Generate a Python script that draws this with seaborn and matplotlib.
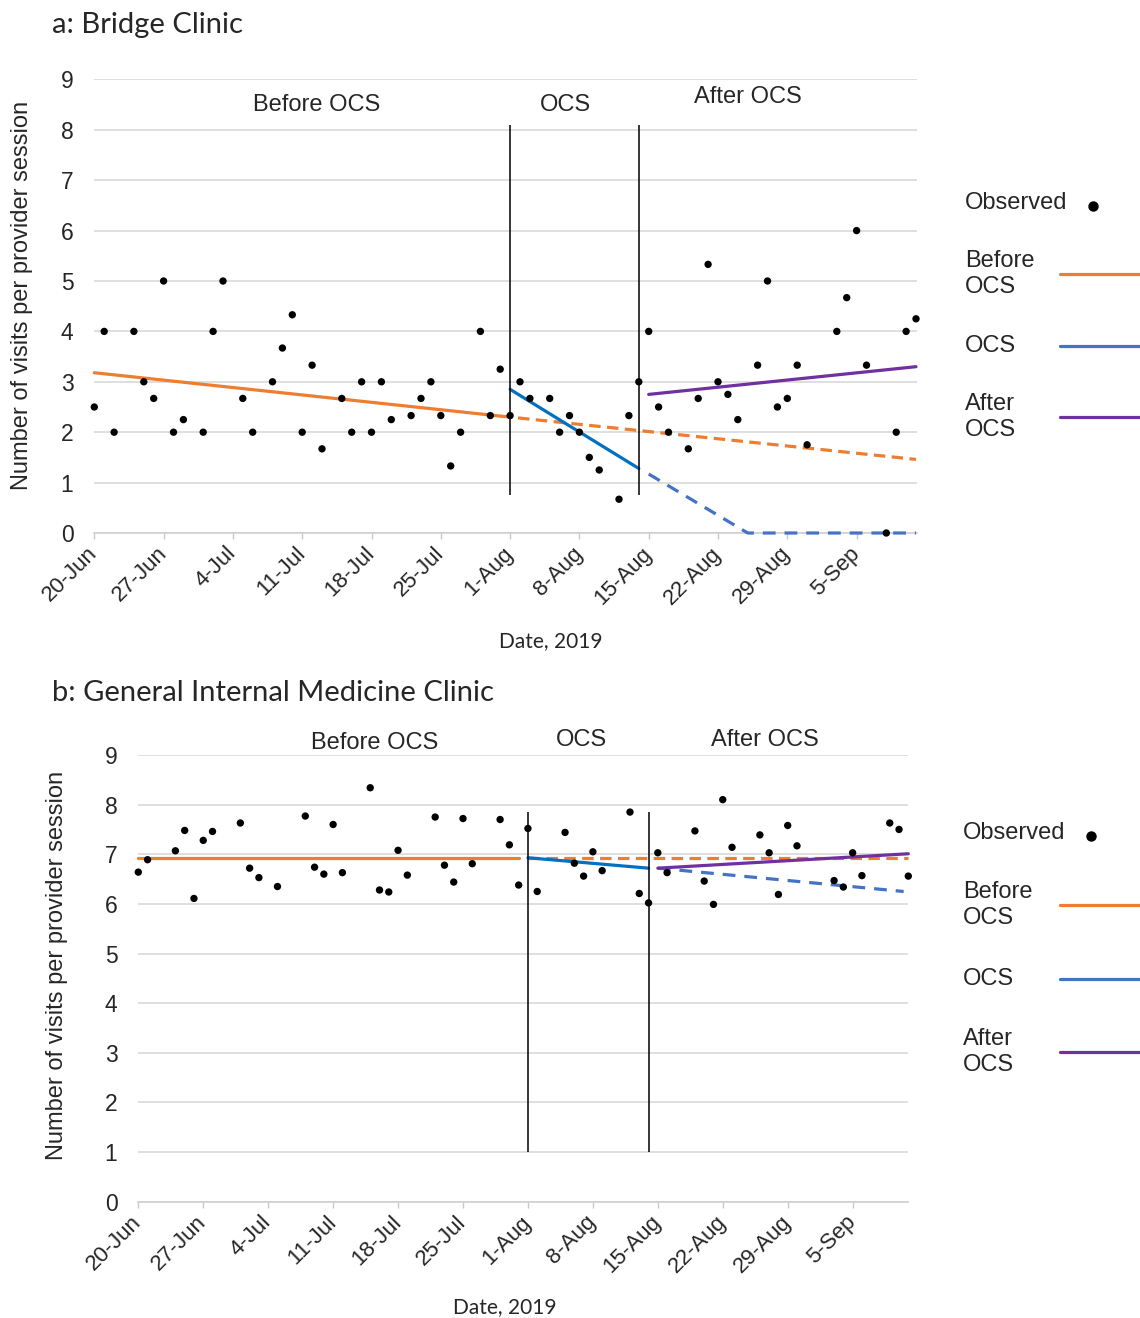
import pandas as pd
import matplotlib.pyplot as plt
from matplotlib.lines import Line2D
import seaborn as sns

sns.set_style("white")
plt.rcParams['font.family'] = ['Liberation Sans', 'DejaVu Sans']

# x axis: days since 20-Jun-2019
tick_days = [0, 7, 14, 21, 28, 35, 42, 49, 56, 63, 70, 77]
tick_labels = ['20-Jun', '27-Jun', '4-Jul', '11-Jul', '18-Jul', '25-Jul',
               '1-Aug', '8-Aug', '15-Aug', '22-Aug', '29-Aug', '5-Sep']

# a: Bridge Clinic observed
bridge_days = [0, 1, 2, 4, 5, 6, 7, 8, 9, 11, 12, 13, 15, 16, 18, 19, 20, 21, 22, 23,
               25, 26, 27, 28, 29, 30, 32, 33, 34, 35, 36, 37, 39, 40, 41, 42, 43, 44,
               46, 47, 48, 49, 50, 51, 53, 54, 55, 56, 57, 58, 60, 61, 62, 63, 64, 65,
               67, 68, 69, 70, 71, 72, 75, 76, 77, 78, 80, 81, 82, 83]
bridge_visits = [2.5, 4, 2, 4, 3, 2.67, 5, 2, 2.25, 2, 4, 5, 2.67, 2, 3, 3.67, 4.33, 2, 3.33, 1.67,
                 2.67, 2, 3, 2, 3, 2.25, 2.33, 2.67, 3, 2.33, 1.33, 2, 4, 2.33, 3.25, 2.33, 3, 2.67,
                 2.67, 2, 2.33, 2, 1.5, 1.25, 0.67, 2.33, 3, 4, 2.5, 2, 1.67, 2.67, 5.33, 3, 2.75, 2.25,
                 3.33, 5, 2.5, 2.67, 3.33, 1.75, 4, 4.67, 6, 3.33, 0, 2, 4, 4.25]

# a: fitted segments
bridge_before_x, bridge_before_y = [0, 41], [3.18, 2.32]
bridge_before_cf_x, bridge_before_cf_y = [41, 83], [2.32, 1.46]
bridge_ocs_x, bridge_ocs_y = [42, 55], [2.85, 1.28]
bridge_ocs_cf_x, bridge_ocs_cf_y = [56, 66, 83], [1.17, 0, 0]
bridge_after_x, bridge_after_y = [56, 83], [2.75, 3.30]

# b: General Internal Medicine Clinic observed
gim_days = [0, 1, 4, 5, 6, 7, 8, 11, 12, 13, 15, 18, 19, 20, 21, 22, 25, 26, 27, 28, 29,
            32, 33, 34, 35, 36, 39, 40, 41, 42, 43, 46, 47, 48, 49, 50, 53, 54, 55, 56, 57,
            60, 61, 62, 63, 64, 67, 68, 69, 70, 71, 75, 76, 77, 78, 81, 82, 83]
gim_visits = [6.64, 6.89, 7.07, 7.48, 6.11, 7.28, 7.46, 7.63, 6.72, 6.53, 6.35, 7.77, 6.74, 6.60,
              7.60, 6.63, 8.34, 6.28, 6.24, 7.08, 6.58, 7.75, 6.78, 6.44, 7.72, 6.81, 7.70, 7.19,
              6.38, 7.52, 6.25, 7.44, 6.82, 6.56, 7.05, 6.67, 7.85, 6.21, 6.02, 7.03, 6.63, 7.47,
              6.46, 5.99, 8.10, 7.14, 7.39, 7.03, 6.19, 7.58, 7.17, 6.47, 6.34, 7.03, 6.57, 7.63,
              7.50, 6.56]

# b: fitted segments
gim_before_x, gim_before_y = [0, 41], [6.93, 6.93]
gim_before_cf_x, gim_before_cf_y = [42, 83], [6.93, 6.93]
gim_ocs_x, gim_ocs_y = [42, 55], [6.93, 6.72]
gim_ocs_cf_x, gim_ocs_cf_y = [56, 82.5], [6.72, 6.25]
gim_after_x, gim_after_y = [56, 83], [6.72, 7.01]

ORANGE = '#ED7D31'
BLUE = '#0070C0'
BLUE_D = '#4472C4'
PURPLE = '#7030A0'
W, H = 1140, 1318


def trend(ax, x, y, color, dashes=None):
    sns.lineplot(x=x, y=y, color=color, lw=2.3, ax=ax, zorder=3)
    ax.lines[-1].set_clip_on(False)
    if dashes:
        ax.lines[-1].set_dashes(dashes)


def style_panel(ax, xmax):
    ax.set_xlim(0, xmax)
    ax.set_ylim(0, 9)
    ax.set_yticks(range(10))
    ax.set_xticks(tick_days)
    ax.set_xticklabels(tick_labels)
    ax.grid(axis='y', color='#d9d9d9', lw=1.2)
    ax.grid(axis='x', visible=False)
    ax.set_axisbelow(True)
    for s in ['top', 'right', 'left']:
        ax.spines[s].set_visible(False)
    ax.spines['bottom'].set_color('#d0d0d0')
    ax.spines['bottom'].set_linewidth(1.2)
    ax.tick_params(axis='y', length=0, pad=15, labelsize=16.5)
    ax.tick_params(axis='x', length=4.5, width=1, color='#c8c8c8', pad=8, labelsize=16,
                   bottom=True)
    plt.setp(ax.get_xticklabels(), rotation=45, ha='right', va='center',
             rotation_mode='anchor')
    ax.set_xlabel('')
    ax.set_ylabel('')


def legend(fig, x_text, ys):
    labels = ['Observed', 'Before\nOCS', 'OCS', 'After\nOCS']
    colors = [None, ORANGE, BLUE_D, PURPLE]
    for lab, col, y in zip(labels, colors, ys):
        fig.text(x_text / W, 1 - y / H, lab, fontsize=17, va='center', ha='left')
        if col is None:
            fig.add_artist(Line2D([(x_text + 128) / W], [1 - (y + 3) / H], marker='o',
                                  color='black', markersize=6.5, lw=0))
        else:
            fig.add_artist(Line2D([1060 / W, 1140 / W], [1 - y / H, 1 - y / H],
                                  color=col, lw=2.3))


fig = plt.figure(figsize=(W / 100, H / 100), dpi=100)

# panel a
ax1 = fig.add_axes([94.3 / W, 1 - 533 / H, (917 - 94.3) / W, (533 - 79.4) / H])
sns.scatterplot(x=bridge_days, y=bridge_visits, color='black', s=28, edgecolor='none',
                ax=ax1, zorder=5, clip_on=False)
trend(ax1, bridge_before_x, bridge_before_y, ORANGE)
trend(ax1, bridge_before_cf_x, bridge_before_cf_y, ORANGE, (3.6, 2.0))
trend(ax1, bridge_ocs_x, bridge_ocs_y, BLUE)
trend(ax1, bridge_ocs_cf_x, bridge_ocs_cf_y, BLUE_D, (4.0, 2.8))
trend(ax1, bridge_after_x, bridge_after_y, PURPLE)
ax1.vlines([42, 55], 0.75, 8.1, color='black', lw=1.1, zorder=4)
style_panel(ax1, 83.1)
ax1.text(22.5, 8.5, 'Before OCS', fontsize=17, ha='center', va='center')
ax1.text(47.6, 8.5, 'OCS', fontsize=17, ha='center', va='center')
ax1.text(66, 8.65, 'After OCS', fontsize=17, ha='center', va='center')

# panel b
ax2 = fig.add_axes([138.3 / W, 1 - 1201.7 / H, (908.3 - 138.3) / W, (1201.7 - 755) / H])
sns.scatterplot(x=gim_days, y=gim_visits, color='black', s=28, edgecolor='none',
                ax=ax2, zorder=5, clip_on=False)
trend(ax2, gim_before_x, gim_before_y, ORANGE)
trend(ax2, gim_before_cf_x, gim_before_cf_y, ORANGE, (3.6, 2.0))
trend(ax2, gim_ocs_x, gim_ocs_y, BLUE)
trend(ax2, gim_ocs_cf_x, gim_ocs_cf_y, BLUE_D, (4.0, 2.8))
trend(ax2, gim_after_x, gim_after_y, PURPLE)
ax2.vlines([42, 55], 1.0, 7.85, color='black', lw=1.1, zorder=4)
style_panel(ax2, 83)
ax2.text(25.5, 9.24, 'Before OCS', fontsize=17, ha='center', va='center')
ax2.text(47.8, 9.3, 'OCS', fontsize=17, ha='center', va='center')
ax2.text(67.5, 9.3, 'After OCS', fontsize=17, ha='center', va='center')

# titles and axis labels
fig.text(52 / W, 1 - 25 / H, 'a: Bridge Clinic', fontsize=21, family='Lato', va='center')
fig.text(52 / W, 1 - 693 / H, 'b: General Internal Medicine Clinic', fontsize=21,
         family='Lato', va='center')
fig.text(551 / W, 1 - 641 / H, 'Date, 2019', fontsize=15, family='Lato', ha='center',
         va='center')
fig.text(505 / W, 1 - 1307 / H, 'Date, 2019', fontsize=15, family='Lato', ha='center',
         va='center')
fig.text(22 / W, 1 - 295 / H, 'Number of visits per provider session', fontsize=17,
         rotation=90, ha='center', va='center')
fig.text(57 / W, 1 - 965 / H, 'Number of visits per provider session', fontsize=17,
         rotation=90, ha='center', va='center')

legend(fig, 965, [203, 274, 346, 417])
legend(fig, 963, [833, 905, 979, 1052])

fig.savefig('out.png', dpi=100)
